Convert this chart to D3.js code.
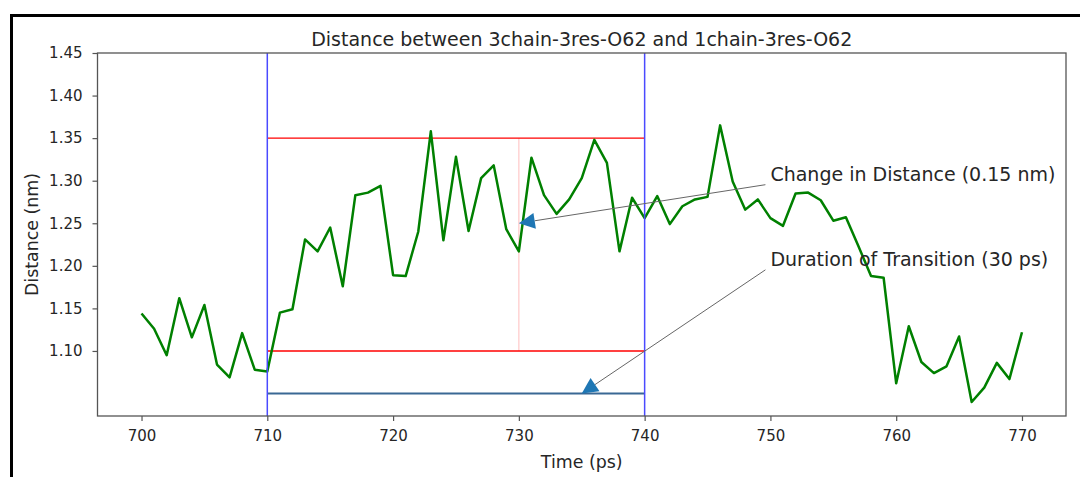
<!DOCTYPE html>
<html>
<head>
<meta charset="utf-8">
<script src="https://cdn.jsdelivr.net/npm/d3@7"></script>
<style>
  body { margin: 0; background: #fff; }
  svg text { font-family: "DejaVu Sans", sans-serif; fill: #262626; }
</style>
</head>
<body>
<svg id="chart" width="1080" height="477"></svg>
<script>
// Time axis (ps) and measured distance (nm)
const times = d3.range(700, 771);
const distances = [
  1.144, 1.126, 1.095, 1.162, 1.116, 1.154, 1.084, 1.069, 1.121, 1.078,
  1.076, 1.145, 1.149, 1.231, 1.217, 1.245, 1.176, 1.283, 1.286, 1.294,
  1.189, 1.188, 1.240, 1.358, 1.230, 1.328, 1.241, 1.303, 1.318, 1.243,
  1.217, 1.327, 1.283, 1.261, 1.278, 1.303, 1.348, 1.321, 1.217, 1.280,
  1.256, 1.282, 1.249, 1.270, 1.278, 1.281, 1.365, 1.299, 1.266, 1.278,
  1.256, 1.247, 1.285, 1.286, 1.277, 1.253, 1.257, 1.223, 1.188, 1.186,
  1.062, 1.129, 1.087, 1.074, 1.082, 1.117, 1.040, 1.057, 1.086, 1.067,
  1.122
];
const xTicks = [700, 710, 720, 730, 740, 750, 760, 770];
const yTicks = [1.10, 1.15, 1.20, 1.25, 1.30, 1.35, 1.40, 1.45];

// transition window markers
const windowStart = 710, windowEnd = 740, windowMid = 730;
const levelLow = 1.10, levelHigh = 1.35, durationLevel = 1.05;

const annotations = [
  { text: "Change in Distance (0.15 nm)", target: [730, 1.25], at: [750, 1.30] },
  { text: "Duration of Transition (30 ps)", target: [735, 1.05], at: [750, 1.20] }
];

const margin = { top: 53, right: 14, bottom: 61, left: 97.5 };
const W = 1080, H = 477;
const width = W - margin.left - margin.right;
const height = H - margin.top - margin.bottom;

const svg = d3.select("#chart");

// outer frame of the screenshot
svg.append("path")
  .attr("d", `M11.5,${H} V15.5 H${W}`)
  .attr("fill", "none")
  .attr("stroke", "#000")
  .attr("stroke-width", 3);

const g = svg.append("g").attr("transform", `translate(${margin.left},${margin.top})`);

const x = d3.scaleLinear().domain([696.5, 773.5]).range([0, width]);
const y = d3.scaleLinear().domain([1.0236, 1.45]).range([height, 0]);

// axes
const xAxis = g.append("g")
  .attr("transform", `translate(0,${height})`)
  .call(d3.axisBottom(x).tickValues(xTicks).tickFormat(d3.format("d")).tickSize(5).tickPadding(9));
const yAxis = g.append("g")
  .call(d3.axisLeft(y).tickValues(yTicks).tickFormat(d3.format(".2f")).tickSize(5).tickPadding(10));
[xAxis, yAxis].forEach(a => {
  a.select(".domain").remove();
  a.selectAll("line").attr("stroke", "#555").attr("stroke-width", 1.2);
  a.selectAll("text").style("font-size", "15px").attr("fill", "#2a2a2a");
});

// window lines
g.append("line")
  .attr("x1", x(windowMid)).attr("x2", x(windowMid))
  .attr("y1", y(levelLow)).attr("y2", y(levelHigh))
  .attr("stroke", "#ffc8c8").attr("stroke-width", 1.2);

[levelLow, levelHigh].forEach(v => {
  g.append("line")
    .attr("x1", x(windowStart)).attr("x2", x(windowEnd))
    .attr("y1", y(v)).attr("y2", y(v))
    .attr("stroke", "#ff0000").attr("stroke-width", 1.4);
});

g.append("line")
  .attr("x1", x(windowStart)).attr("x2", x(windowEnd))
  .attr("y1", y(durationLevel)).attr("y2", y(durationLevel))
  .attr("stroke", "#3a6894").attr("stroke-width", 2);

// data line
const line = d3.line().x((d, i) => x(times[i])).y(d => y(d));
g.append("path")
  .datum(distances)
  .attr("d", line)
  .attr("fill", "none")
  .attr("stroke", "#008000")
  .attr("stroke-width", 2.5)
  .attr("stroke-linejoin", "round");

[windowStart, windowEnd].forEach(v => {
  g.append("line")
    .attr("x1", x(v)).attr("x2", x(v))
    .attr("y1", 0).attr("y2", height)
    .attr("stroke", "#4a4aff").attr("stroke-width", 1.5);
});

// annotations
annotations.forEach(a => {
  const tx = x(a.target[0]), ty = y(a.target[1]);
  const sx = x(a.at[0]) - 5, sy = y(a.at[1]) + 4;
  const ang = Math.atan2(sy - ty, sx - tx);
  const len = 16, half = 8;
  const bx = tx + Math.cos(ang) * len, by = ty + Math.sin(ang) * len;
  const px = -Math.sin(ang) * half, py = Math.cos(ang) * half;
  g.append("line")
    .attr("x1", sx).attr("y1", sy).attr("x2", bx).attr("y2", by)
    .attr("stroke", "#666").attr("stroke-width", 1);
  g.append("path")
    .attr("d", `M${tx},${ty} L${bx + px},${by + py} L${bx - px},${by - py} Z`)
    .attr("fill", "#1f77b4");
  g.append("text")
    .attr("x", x(a.at[0])).attr("y", y(a.at[1]))
    .style("font-size", "19px")
    .text(a.text);
});

// frame
g.append("rect")
  .attr("width", width).attr("height", height)
  .attr("fill", "none").attr("stroke", "#555").attr("stroke-width", 1.3);

// titles
svg.append("text")
  .attr("x", margin.left + width / 2).attr("y", 46)
  .attr("text-anchor", "middle")
  .style("font-size", "19px")
  .text("Distance between 3chain-3res-O62 and 1chain-3res-O62");

svg.append("text")
  .attr("x", margin.left + width / 2).attr("y", 468)
  .attr("text-anchor", "middle")
  .style("font-size", "17.4px")
  .text("Time (ps)");

svg.append("text")
  .attr("transform", `translate(38,${margin.top + height / 2}) rotate(-90)`)
  .attr("text-anchor", "middle")
  .style("font-size", "17.4px")
  .text("Distance (nm)");
</script>
</body>
</html>
